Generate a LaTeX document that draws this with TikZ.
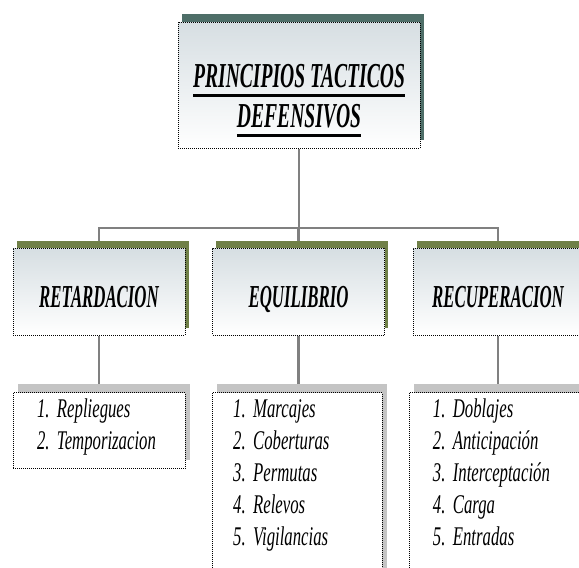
\documentclass[tikz,border=0pt]{standalone}
\usepackage{fontspec}
\setmainfont{Liberation Serif}
\usepackage{graphicx}
\usetikzlibrary{shadows,backgrounds}

\definecolor{tealshadow}{RGB}{78,110,104}
\definecolor{oliveshadow}{RGB}{112,128,72}
\definecolor{listshadow}{RGB}{196,196,196}
\definecolor{boxtop}{RGB}{214,222,226}
\definecolor{linkgray}{RGB}{128,128,128}

\newsavebox{\ulbox}
\newcommand{\thickul}[1]{\sbox{\ulbox}{#1}\rlap{\rule[-10pt]{\wd\ulbox}{3pt}}\usebox{\ulbox}}
\newcommand{\headtext}[2]{\scalebox{#1}[1]{#2}}
\newcommand{\itemlist}[2]{\scalebox{0.62}[1]{\begin{tabular}[t]{@{}p{#1}@{}}#2\end{tabular}}}

\tikzset{
    dotbox/.style = {draw, densely dotted, line width = 1pt, rectangle, inner sep = 0pt},
    titlebox/.style = {dotbox, top color = boxtop, bottom color = white,
        general shadow = {fill = tealshadow, shadow xshift = 4pt, shadow yshift = 8pt},
        minimum width = 242pt, minimum height = 126pt, text height = 26pt, text depth = 22pt,
        font = \fontsize{35}{40}\selectfont\bfseries\itshape},
    groupbox/.style = {dotbox, top color = boxtop, bottom color = white,
        general shadow = {fill = oliveshadow, shadow xshift = 3.5pt, shadow yshift = 7pt},
        minimum width = 172pt, minimum height = 87pt, text height = 31pt, text depth = 0pt,
        font = \fontsize{32}{38}\selectfont\bfseries\itshape},
    listbox/.style = {dotbox, fill = white,
        general shadow = {fill = listshadow, shadow xshift = 5pt, shadow yshift = 9pt},
        anchor = north, inner ysep = 4pt, text height = 21pt,
        font = \fontsize{27}{32}\selectfont\itshape},
    link/.style = {draw = linkgray, line width = 2.6pt}
}

\begin{document}
\begin{tikzpicture}[x = 1pt, y = -1pt]
        \useasboundingbox (0,0) rectangle (579,568);
        \clip (0,0) rectangle (579,568);
        \node[titlebox] (principios) at (299,85) {\headtext{0.56}{\begin{tabular}[t]{@{}c@{}}\thickul{PRINCIPIOS TACTICOS}\\ \thickul{DEFENSIVOS}\end{tabular}}};
        \node[groupbox] (retardacion) at (99,291.5) {\headtext{0.525}{RETARDACION}};
        \node[groupbox] (equilibrio) at (298.5,291.5) {\headtext{0.525}{EQUILIBRIO}};
        \node[groupbox, minimum width = 170pt] (recuperacion) at (498,291.5) {\headtext{0.525}{RECUPERACION}};
        \node[listbox, minimum width = 172pt, text depth = 47pt] (repliegues) at (99,392) {\itemlist{200pt}{1.\hspace{12pt}Repliegues\\ 2.\hspace{12pt}Temporizacion}};
        \node[listbox, minimum width = 170pt, text depth = 159pt] (marcajes) at (297,392) {\itemlist{206pt}{1.\hspace{12pt}Marcajes\\ 2.\hspace{12pt}Coberturas\\ 3.\hspace{12pt}Permutas\\ 4.\hspace{12pt}Relevos\\ 5.\hspace{12pt}Vigilancias}};
        \node[listbox, minimum width = 178pt, text depth = 159pt] (doblajes) at (498,392) {\itemlist{210pt}{1.\hspace{12pt}Doblajes\\ 2.\hspace{12pt}Anticipación\\ 3.\hspace{12pt}Interceptación\\ 4.\hspace{12pt}Carga\\ 5.\hspace{12pt}Entradas}};
        \coordinate (bus) at (298,228);
        \begin{scope}[on background layer]
            \draw[link] (principios.south) -- (principios.south |- bus);
            \draw[link] (retardacion.north) |- (bus) -| (recuperacion.north);
            \draw[link] (equilibrio.north) -- (equilibrio.north |- bus);
            \foreach \src/\dst in {retardacion/repliegues, equilibrio/marcajes, recuperacion/doblajes}
                \draw[link] (\src.south) -- (\src.south |- \dst.north);
        \end{scope}
\end{tikzpicture}
\end{document}
